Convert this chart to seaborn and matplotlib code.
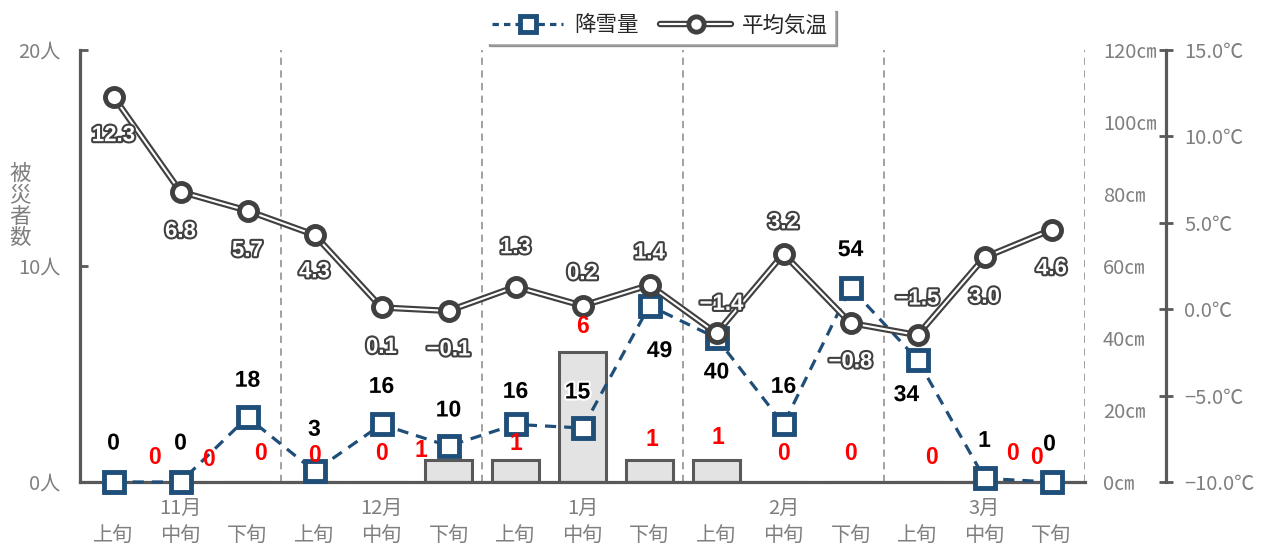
import matplotlib
matplotlib.use("Agg")
import matplotlib.pyplot as plt
import matplotlib.patheffects as pe
from matplotlib.lines import Line2D
import pandas as pd
import seaborn as sns

sns.set_style("white")
plt.rcParams["font.family"] = ["Noto Sans CJK JP", "DejaVu Sans"]

months = ["11月", "12月", "1月", "2月", "3月"]
periods = ["上旬", "中旬", "下旬"]
victims = [0, 0, 0, 0, 0, 1, 1, 6, 1, 1, 0, 0, 0, 0, 0]
snowfall = [0, 0, 18, 3, 16, 10, 16, 15, 49, 40, 16, 54, 34, 1, 0]
avg_temp = [12.3, 6.8, 5.7, 4.3, 0.1, -0.1, 1.3, 0.2, 1.4, -1.4, 3.2, -0.8, -1.5, 3.0, 4.6]

# label offsets in pixels (dx, dy), layout only
victim_off = [(41, 25), (28, 22), (13, 28), (0, 27), (0, 29), (-28, 10), (0, 17), (0, 26),
              (2, 21), (1, 23), (0, 29), (0, 29), (14, 24), (28, 29), (-15, 24)]
snow_off = [(0, 39), (0, 39), (0, 37), (0, 42), (0, 38), (0, 36), (0, 33), (-5, 36),
            (10, -45), (0, -34), (0, 38), (0, 38), (-11, -35), (0, 38), (-2, 38)]
temp_off = [(0, -39), (0, -40), (0, -40), (0, -37), (0, -40), (0, -39), (0, 39), (0, 32),
            (0, 32), (5, 29), (0, 31), (0, -39), (0, 36), (0, -40), (0, -39)]

GRAY = "#595959"
LABEL = "#7f7f7f"
BLUE = "#1f4e79"
DARK = "#404040"
NUM_FONT = ["Liberation Sans", "DejaVu Sans"]


def fmt_minus(s):
    return s.replace("-", "\u2212")


def main():
    df = pd.DataFrame({
        "idx": range(len(victims)),
        "victims": victims,
        "snow": snowfall,
        "temp": avg_temp,
    })

    fig, ax = plt.subplots(figsize=(12.72, 5.47), dpi=100)
    fig.subplots_adjust(left=80 / 1272, right=1085 / 1272,
                        bottom=1 - 482 / 547, top=1 - 50 / 547)

    for x in [2.5, 5.5, 8.5, 11.5, 14.5]:
        ax.axvline(x, color="#9a9a9a", ls=(0, (4, 3)), lw=1.3, zorder=0)

    sns.barplot(data=df, x="idx", y="victims", ax=ax, color="#e3e3e3",
                edgecolor=GRAY, linewidth=2.2, width=0.69, saturation=1, zorder=2)
    ax.set_xlim(-0.5, 14.5)
    ax.set_ylim(0, 20)
    ax.set_xlabel("")
    ax.set_ylabel("")
    ax.set_yticks([0, 10, 20])
    ax.set_yticklabels(["0人", "10人", "20人"])
    ax.set_xticks(range(15))
    ax.set_xticklabels(periods * 5)
    ax.set_xticks([2.5, 5.5, 8.5, 11.5, 14.5], minor=True)
    ax.tick_params(axis="x", which="major", length=0, pad=31, labelsize=14.5, labelcolor=LABEL)
    ax.tick_params(axis="x", which="minor", direction="in", length=4, width=1.5, color=GRAY)
    ax.tick_params(axis="y", direction="in", length=6, width=2, color=GRAY, pad=14,
                   labelsize=14.5, labelcolor=LABEL)
    for s in ["top", "right"]:
        ax.spines[s].set_visible(False)
    for s in ["left", "bottom"]:
        ax.spines[s].set_color(GRAY)
        ax.spines[s].set_linewidth(2.3)
    for i, m in enumerate(months):
        ax.text(3 * i + 1, -0.06, m, transform=ax.get_xaxis_transform(),
                ha="center", va="center", fontsize=14.5, color=LABEL)
    fig.text(20 / 1272, 1 - 206 / 547, "被\n災\n者\n数", ha="center", va="center",
             fontsize=15.5, color=LABEL, linespacing=0.95)

    # snowfall axis
    ax2 = ax.twinx()
    sns.lineplot(data=df, x="idx", y="snow", ax=ax2, color=BLUE, lw=2.3,
                 linestyle=(0, (3.5, 2.5)), marker="s", markersize=14,
                 markerfacecolor="white", markeredgecolor=BLUE, markeredgewidth=3.5,
                 clip_on=False)
    ax2.set_ylim(0, 120)
    ax2.set_yticks(range(0, 121, 20))
    ax2.set_yticklabels([f"{v}㎝" for v in range(0, 121, 20)])
    ax2.tick_params(axis="y", length=0, pad=13, labelsize=14.5, labelcolor=LABEL)
    ax2.set_ylabel("")
    for s in ax2.spines.values():
        s.set_visible(False)

    # temperature axis
    ax3 = ax.twinx()
    sns.lineplot(data=df, x="idx", y="temp", ax=ax3, color=DARK, lw=4.6)
    sns.lineplot(data=df, x="idx", y="temp", ax=ax3, color="white", lw=1.5)
    sns.lineplot(data=df, x="idx", y="temp", ax=ax3, linestyle="none", marker="o",
                 markersize=13, markerfacecolor="white", markeredgecolor=DARK,
                 markeredgewidth=3.5, clip_on=False)
    ax3.set_ylim(-10, 15)
    ax3.set_yticks(range(-10, 16, 5))
    ax3.set_yticklabels([fmt_minus(f"{v:.1f}℃") for v in range(-10, 16, 5)])
    ax3.spines["right"].set_position(("axes", 1.0806))
    ax3.spines["right"].set_color(GRAY)
    ax3.spines["right"].set_linewidth(2.3)
    for s in ["left", "top", "bottom"]:
        ax3.spines[s].set_visible(False)
    ax3.tick_params(axis="y", direction="inout", length=10, width=2, color=GRAY, pad=8,
                    labelsize=14.5, labelcolor=LABEL)
    ax3.set_ylabel("")

    # data labels
    for i, v in enumerate(victims):
        ax3.annotate(str(v), xy=(i, v), xycoords=ax.transData, xytext=victim_off[i],
                     textcoords="offset pixels", ha="center", va="center",
                     fontsize=16.5, fontweight="bold", color="#ff0000", family=NUM_FONT)
    for i, v in enumerate(snowfall):
        ax3.annotate(str(v), xy=(i, v), xycoords=ax2.transData, xytext=snow_off[i],
                     textcoords="offset pixels", ha="center", va="center",
                     fontsize=16.5, fontweight="bold", color="black", family=NUM_FONT,
                     path_effects=[pe.withStroke(linewidth=3, foreground="white")])
    for i, v in enumerate(avg_temp):
        ax3.annotate(fmt_minus(f"{v:.1f}"), xy=(i, v), xycoords=ax3.transData,
                     xytext=temp_off[i], textcoords="offset pixels", ha="center",
                     va="center", fontsize=16, fontweight="bold", color="white",
                     family=NUM_FONT,
                     path_effects=[pe.withStroke(linewidth=3, foreground=DARK)])

    h_snow = Line2D([], [], color=BLUE, lw=2.3, ls=(0, (2, 1.6)), marker="s",
                    markersize=11, markerfacecolor="white", markeredgecolor=BLUE,
                    markeredgewidth=3.5)
    h_t1 = Line2D([], [], color=DARK, lw=4.6)
    h_t2 = Line2D([], [], color="white", lw=1.5)
    h_t3 = Line2D([], [], ls="none", marker="o", markersize=11, markerfacecolor="white",
                  markeredgecolor=DARK, markeredgewidth=3.5)
    fig.legend(handles=[h_snow, (h_t1, h_t2, h_t3)], labels=["降雪量", "平均気温"],
               loc="upper center", bbox_to_anchor=(0.519, 1.005), ncol=2, fontsize=15.5,
               frameon=True, shadow=True, fancybox=False, edgecolor="white",
               handlelength=3.3, handletextpad=0.5, columnspacing=1.0, borderpad=0.3)

    fig.savefig("out.png", dpi=100)
    plt.close()


if __name__ == "__main__":
    main()
